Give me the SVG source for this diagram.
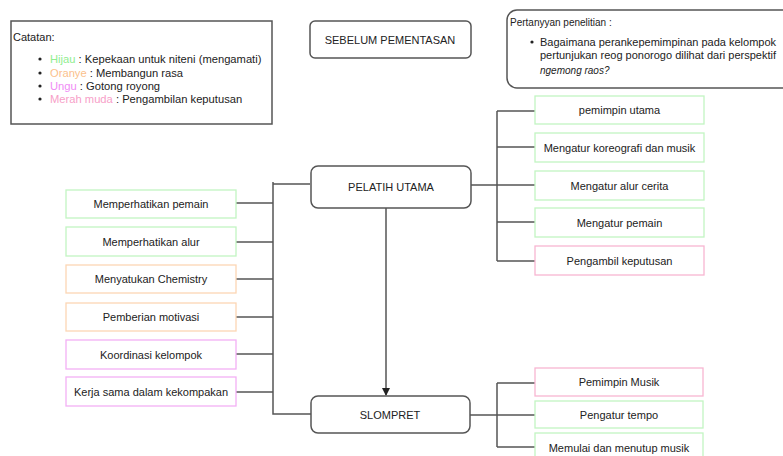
<svg xmlns="http://www.w3.org/2000/svg" width="783" height="456" viewBox="0 0 783 456">
<style>
text{font-family:"Liberation Sans",Arial,sans-serif;font-size:11px;fill:#222}
.c{text-anchor:middle;dominant-baseline:central}
.box{fill:#fff;stroke-width:1.3}
.g{stroke:#c2f5c2}.o{stroke:#fcd6b4}.u{stroke:#f3b0f5}.p{stroke:#f7b6d2}
.main{fill:#fff;stroke:#555;stroke-width:1.5}
.ln{fill:none;stroke:#555;stroke-width:1.5}
</style>
<defs><marker id="ah" markerWidth="8" markerHeight="8" refX="7" refY="4" orient="auto" markerUnits="userSpaceOnUse"><path d="M0,0 L8,4 L0,8 Z" fill="#222"/></marker></defs>
<rect width="783" height="456" fill="#fff"/>
<g id="catatan">
<rect x="11" y="21" width="261" height="103" fill="#fff" stroke="#555" stroke-width="1.5"/>
<text x="13" y="41">Catatan:</text>
<circle cx="40" cy="59" r="1.6" fill="#222"/><circle cx="40" cy="73" r="1.6" fill="#222"/><circle cx="40" cy="86" r="1.6" fill="#222"/><circle cx="40" cy="99" r="1.6" fill="#222"/>
<text x="50" y="63" style="font-size:11.2px"><tspan fill="#90ee90">Hijau</tspan> : Kepekaan untuk niteni (mengamati)</text>
<text x="50" y="77" style="font-size:11.2px"><tspan fill="#fbbf8c">Oranye</tspan> : Membangun rasa</text>
<text x="50" y="90" style="font-size:11.2px"><tspan fill="#f08cf5">Ungu</tspan> : Gotong royong</text>
<text x="50" y="103" style="font-size:11.2px"><tspan fill="#f7a0c8">Merah muda</tspan> : Pengambilan keputusan</text>
</g>
<g id="sebelum">
<rect class="main" x="310" y="21" width="161" height="37" rx="5"/>
<text class="c" x="390" y="40">SEBELUM PEMENTASAN</text>
</g>
<g id="pertanyaan">
<rect class="main" x="507" y="10" width="300" height="78" rx="10"/>
<text x="510" y="26" style="font-size:10px">Pertanyyan penelitian :</text>
<circle cx="532" cy="42" r="1.6" fill="#222"/>
<text x="540" y="46">Bagaimana perankepemimpinan pada kelompok</text>
<text x="540" y="59">pertunjukan reog ponorogo dilihat dari perspektif</text>
<text x="540" y="74" style="font-size:10px;font-style:italic">ngemong raos?</text>
</g>
<g id="connectors">
<path class="ln" d="M471,185 H497 M497,111 V261 M497,111 H535 M497,147 H535 M497,185 H535 M497,222 H535 M497,261 H535"/>
<path class="ln" d="M310,184 H273 M273,182 V414 H311 M236,203 H273 M236,242 H273 M236,279 H273 M236,317 H273 M236,354 H273 M236,392 H273"/>
<path class="ln" d="M470,415 H497 M497,383 V447 M497,383 H535 M497,415 H535 M497,447 H535"/>
<path class="ln" d="M386,208 V395" marker-end="url(#ah)"/>
</g>
<g id="pelatih">
<rect class="main" x="311" y="166" width="160" height="42" rx="7"/>
<text class="c" x="391" y="187">PELATIH UTAMA</text>
</g>
<g id="slompret">
<rect class="main" x="311" y="396" width="159" height="37" rx="7"/>
<text class="c" x="390" y="414.5">SLOMPRET</text>
</g>
<g id="r1"><rect class="box g" x="535" y="96" width="169" height="28"/><text class="c" x="619.5" y="110">pemimpin utama</text></g>
<g id="r2"><rect class="box g" x="535" y="133" width="169" height="29"/><text class="c" x="619.5" y="147.5">Mengatur koreografi dan musik</text></g>
<g id="r3"><rect class="box g" x="535" y="171" width="169" height="29"/><text class="c" x="619.5" y="185.5">Mengatur alur cerita</text></g>
<g id="r4"><rect class="box g" x="535" y="208" width="169" height="29"/><text class="c" x="619.5" y="222.5">Mengatur pemain</text></g>
<g id="r5"><rect class="box p" x="535" y="246" width="169" height="29"/><text class="c" x="619.5" y="260.5">Pengambil keputusan</text></g>
<g id="l1"><rect class="box g" x="66" y="190" width="170" height="28"/><text class="c" x="151" y="204">Memperhatikan pemain</text></g>
<g id="l2"><rect class="box g" x="66" y="227" width="170" height="29"/><text class="c" x="151" y="241.5">Memperhatikan alur</text></g>
<g id="l3"><rect class="box o" x="66" y="265" width="170" height="28"/><text class="c" x="151" y="279">Menyatukan Chemistry</text></g>
<g id="l4"><rect class="box o" x="66" y="303" width="170" height="28"/><text class="c" x="151" y="317">Pemberian motivasi</text></g>
<g id="l5"><rect class="box u" x="66" y="340" width="170" height="29"/><text class="c" x="151" y="354.5">Koordinasi kelompok</text></g>
<g id="l6"><rect class="box u" x="66" y="377" width="170" height="29"/><text class="c" x="151" y="391.5">Kerja sama dalam kekompakan</text></g>
<g id="s1"><rect class="box p" x="535" y="368" width="168" height="28"/><text class="c" x="619" y="382">Pemimpin Musik</text></g>
<g id="s2"><rect class="box g" x="535" y="401" width="168" height="27"/><text class="c" x="619" y="414.5">Pengatur tempo</text></g>
<g id="s3"><rect class="box g" x="535" y="433" width="168" height="30"/><text class="c" x="619" y="448">Memulai dan menutup musik</text></g>
</svg>
